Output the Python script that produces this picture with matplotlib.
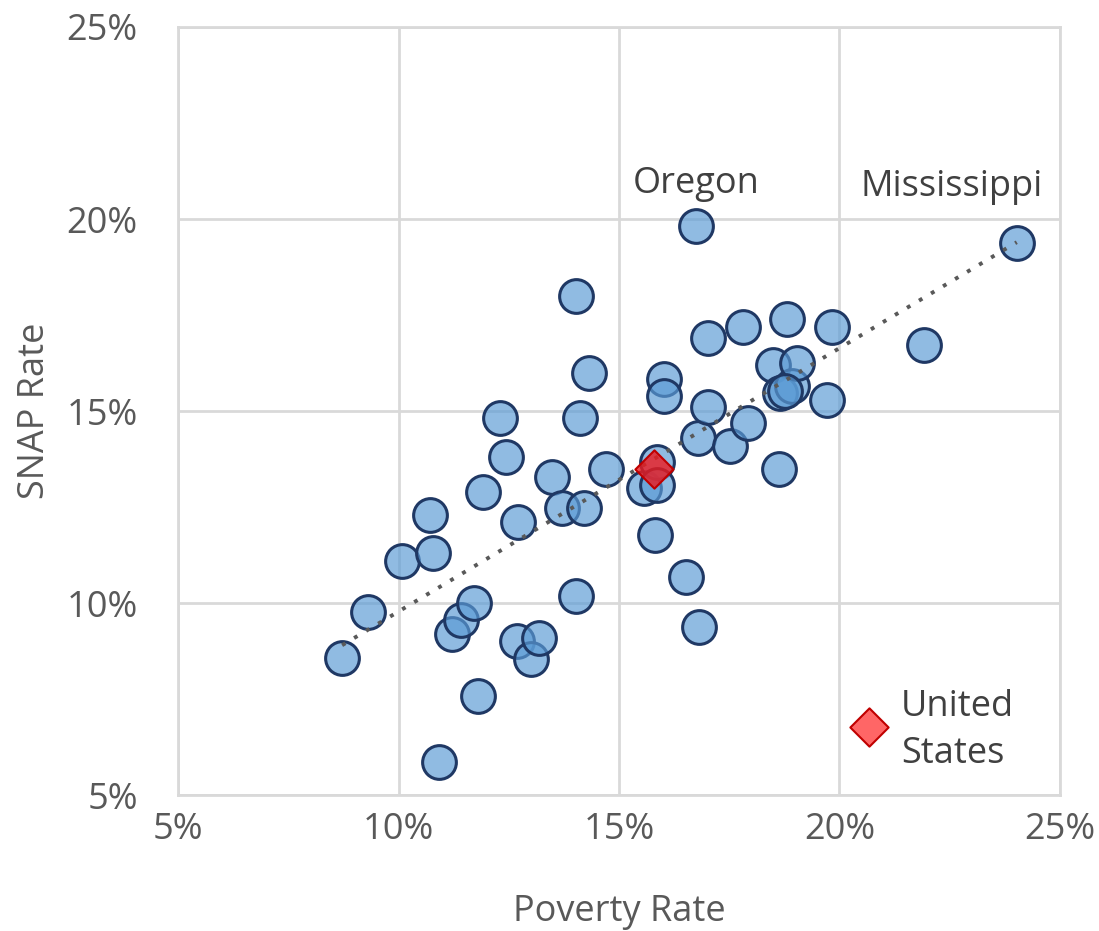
import matplotlib
matplotlib.use("Agg")
import matplotlib.pyplot as plt
import numpy as np
from matplotlib.ticker import FuncFormatter

plt.rcParams['font.family'] = ['Open Sans', 'DejaVu Sans']

poverty = [8.72, 9.31, 10.08, 10.71, 10.78, 10.92, 11.21, 11.42, 11.71, 11.80,
           11.92, 12.30, 12.44, 12.69, 12.71, 13.00, 13.19, 13.48, 13.71, 14.02,
           14.12, 14.02, 14.21, 14.32, 14.71, 15.57, 15.86, 15.82, 15.86, 16.02,
           16.02, 16.52, 16.75, 16.79, 16.81, 17.02, 17.02, 17.52, 17.81, 17.93,
           18.49, 18.63, 18.65, 18.81, 18.92, 19.04, 19.72, 19.83, 21.92, 24.02,
           18.76]
snap = [8.57, 9.77, 11.09, 12.29, 11.30, 5.86, 9.19, 9.56, 10.00, 7.58,
        12.89, 14.82, 13.80, 9.01, 12.11, 8.54, 9.09, 13.28, 12.47, 17.99,
        14.82, 10.18, 12.47, 15.99, 13.49, 12.99, 13.67, 11.77, 13.07, 15.83,
        15.39, 10.68, 19.82, 14.30, 9.37, 16.90, 15.10, 14.09, 17.19, 14.69,
        16.20, 13.49, 15.47, 17.40, 15.65, 16.25, 15.29, 17.19, 16.72, 19.37,
        15.52]
us_poverty = 15.79
us_snap = 13.49
legend_marker = (20.67, 6.77)

ticks = [5, 10, 15, 20, 25]
gray = '#595959'

fig = plt.figure(figsize=(10.99, 9.31), dpi=100)
ax = fig.add_axes([0.162, 0.146, 0.8025, 0.825])
ax.set_xlim(5, 25)
ax.set_ylim(5, 25)
ax.set_xticks(ticks)
ax.set_yticks(ticks)
fmt = FuncFormatter(lambda v, p: f"{v:.0f}%")
ax.xaxis.set_major_formatter(fmt)
ax.yaxis.set_major_formatter(fmt)
ax.tick_params(length=0, labelsize=26, colors=gray)
ax.tick_params(axis='x', pad=12)
ax.tick_params(axis='y', pad=29)
ax.grid(True, color='#D9D9D9', linewidth=2)
ax.set_axisbelow(True)
for s in ax.spines.values():
    s.set_color('#D9D9D9')
    s.set_linewidth(2)

ax.scatter(poverty, snap, s=590, facecolors=(0.357, 0.608, 0.835, 0.68),
           edgecolors='#1F3864', linewidths=2.2, zorder=3)

# trendline
m, b = np.polyfit(poverty, snap, 1)
xs = np.array([min(poverty), max(poverty)])
ax.plot(xs, m * xs + b, linestyle=(0, (1, 2.6)), color=gray, linewidth=2.8, zorder=4)

ax.scatter([us_poverty], [us_snap], marker='D', s=380, facecolors=(0.93, 0.1, 0.12, 0.8),
           edgecolors='#C00000', linewidths=1.5, zorder=5)
ax.scatter([legend_marker[0]], [legend_marker[1]], marker='D', s=380,
           facecolors=(1.0, 0.2, 0.2, 0.75), edgecolors='#C00000', linewidths=1.5, zorder=5)

ax.text(16.75, 20.9, 'Oregon', ha='center', va='center', fontsize=26, color='#404040')
ax.text(22.55, 20.83, 'Mississippi', ha='center', va='center', fontsize=26, color='#404040')
ax.text(21.4, 6.68, 'United\nStates', ha='left', va='center', fontsize=26,
        color='#404040', linespacing=1.42)

ax.set_xlabel('Poverty Rate', fontsize=26, color=gray, labelpad=33)
ax.set_ylabel('SNAP Rate', fontsize=26, color=gray, labelpad=10)

fig.savefig('out.png', dpi=100)
